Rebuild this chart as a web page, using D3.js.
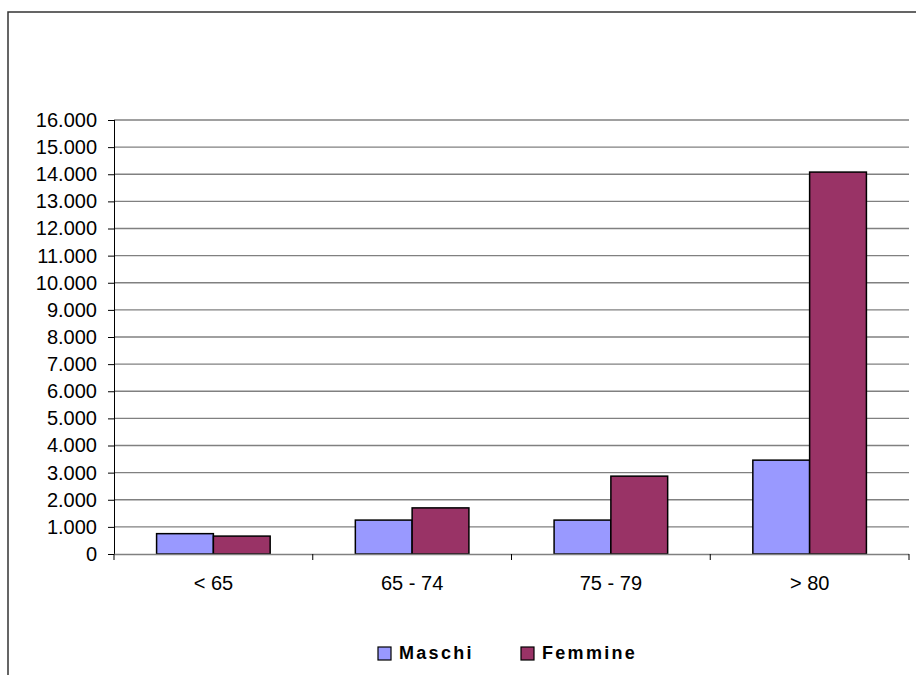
<!DOCTYPE html>
<html>
<head>
<meta charset="utf-8">
<style>
  body { margin: 0; background: #fff; }
  .axis text { font-family: "Liberation Sans", Arial, sans-serif; font-size: 20px; fill: #000; }
  .legend text { font-family: "Liberation Sans", Arial, sans-serif; font-size: 18px; font-weight: bold; letter-spacing: 2.3px; }
</style>
</head>
<body>
<svg width="916" height="675"></svg>
<script src="https://cdnjs.cloudflare.com/ajax/libs/d3/7.8.5/d3.min.js"></script>
<script>

// data
var categories = ["< 65", "65 - 74", "75 - 79", "> 80"];
var series = ["Maschi", "Femmine"];
var maschi = [750, 1250, 1250, 3460];
var femmine = [660, 1700, 2870, 14080];
var yTicks = d3.range(0, 16001, 1000);
var colors = ["#9999ff", "#993366"];

var values = [maschi, femmine];

var svg = d3.select("svg"),
    margin = {top: 120, right: 7, bottom: 121, left: 114},
    width = 916 - margin.left - margin.right,
    height = 675 - margin.top - margin.bottom;

// outer frame
svg.append("rect")
    .attr("x", 8)
    .attr("y", 12)
    .attr("width", 930)
    .attr("height", 700)
    .attr("fill", "none")
    .attr("stroke", "#333")
    .attr("stroke-width", 1.5);

var g = svg.append("g").attr("transform", "translate(" + margin.left + "," + margin.top + ")");

var it = d3.formatLocale({decimal: ",", thousands: ".", grouping: [3], currency: ["", "€"]});
var fmt = it.format(",");

var x0 = d3.scaleBand().domain(categories).range([0, width]).padding(0);
var x1 = d3.scaleBand().domain(series).range([0, x0.bandwidth()]).paddingInner(0).paddingOuter(0.75);
var y = d3.scaleLinear().domain([0, 16000]).range([height, 0]);
var color = d3.scaleOrdinal().domain(series).range(colors);

// gridlines
g.append("g")
    .selectAll("line")
    .data(yTicks.slice(1))
    .enter().append("line")
    .attr("x1", 0)
    .attr("x2", width)
    .attr("y1", function(d) { return y(d); })
    .attr("y2", function(d) { return y(d); })
    .attr("stroke", "#808080")
    .attr("stroke-width", 1.3);

// bars
var groups = g.selectAll(".grp")
    .data(categories)
    .enter().append("g")
    .attr("class", "grp")
    .attr("transform", function(d) { return "translate(" + x0(d) + ",0)"; });

groups.selectAll("rect")
    .data(function(d, i) { return series.map(function(s, j) { return {key: s, value: values[j][i]}; }); })
    .enter().append("rect")
    .attr("x", function(d) { return x1(d.key); })
    .attr("y", function(d) { return y(d.value); })
    .attr("width", x1.bandwidth())
    .attr("height", function(d) { return height - y(d.value); })
    .attr("fill", function(d) { return color(d.key); })
    .attr("stroke", "#000")
    .attr("stroke-width", 1.5);

// y axis
var yAxis = g.append("g")
    .attr("class", "axis")
    .call(d3.axisLeft(y).tickValues(yTicks).tickFormat(fmt).tickSize(6).tickPadding(11));
yAxis.select(".domain").attr("stroke", "#000").attr("d", "M0.5," + height + "V0");
yAxis.selectAll(".tick line").attr("stroke", "#000");

// x axis
var xAxis = g.append("g")
    .attr("class", "axis")
    .attr("transform", "translate(0," + height + ")")
    .call(d3.axisBottom(x0).tickSize(0).tickPadding(22));
xAxis.select(".domain").attr("stroke", "#808080").attr("stroke-width", 1.3).attr("d", "M0,0.5H" + width);

// category separators
xAxis.selectAll(".sep")
    .data(categories.concat([null]))
    .enter().append("line")
    .attr("class", "sep")
    .attr("x1", function(d, i) { return i * x0.step(); })
    .attr("x2", function(d, i) { return i * x0.step(); })
    .attr("y1", 0)
    .attr("y2", 6)
    .attr("stroke", "#000");

// legend
var legendX = [378, 521];
var legend = svg.append("g").attr("class", "legend");
var item = legend.selectAll("g")
    .data(series)
    .enter().append("g")
    .attr("transform", function(d, i) { return "translate(" + legendX[i] + ",647)"; });

item.append("rect")
    .attr("width", 13)
    .attr("height", 13)
    .attr("fill", function(d) { return color(d); })
    .attr("stroke", "#000")
    .attr("stroke-width", 1.2);

item.append("text")
    .attr("x", 21)
    .attr("y", 12)
    .text(function(d) { return d; });

</script>
</body>
</html>
